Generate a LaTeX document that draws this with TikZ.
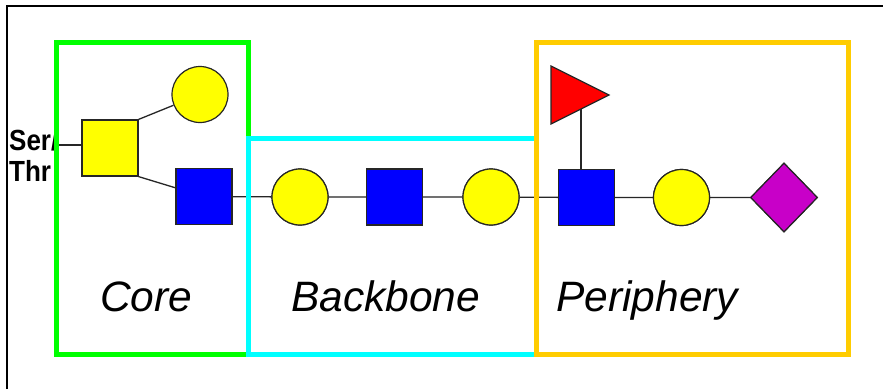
\documentclass[tikz,border=0pt]{standalone}
\usepackage{fontspec}
\setmainfont{Liberation Sans}
\usetikzlibrary{shapes.geometric}
\definecolor{glcYellow}{HTML}{FFFF00}
\definecolor{glcBlue}{HTML}{0000FF}
\definecolor{glcRed}{HTML}{FF0000}
\definecolor{glcPurple}{HTML}{C800C8}
\definecolor{regGreen}{HTML}{00FF00}
\definecolor{regCyan}{HTML}{00FFFF}
\definecolor{regOrange}{HTML}{FFCC00}
\tikzset{
  residue/.style={draw=black!85, line width=1.2pt, inner sep=0pt},
  hexnac/.style={residue, rectangle, minimum size=56pt},
  hexose/.style={residue, circle, minimum size=56pt, fill=glcYellow},
  sialic/.style={residue, diamond, minimum width=67pt, minimum height=69pt, fill=glcPurple},
  bond/.style={draw=black!85, line width=1.3pt},
  region/.style={line width=5pt},
  regionlabel/.style={anchor=base west, inner sep=0pt, font=\fontsize{42.5}{48}\selectfont\itshape},
  aminoacid/.style={anchor=base west, inner sep=0pt, yscale=1.12, font=\fontsize{26}{30}\selectfont\bfseries, text=black}
}
\begin{document}
\begin{tikzpicture}[x=1pt,y=-1pt]
\useasboundingbox (0,0) rectangle (883,389);
\fill[white] (0,0) rectangle (883,389);
% frame lines
\draw[line width=2pt] (7,389) -- (7,5.7) -- (883,5.7);

% attachment amino acid
\node[aminoacid] (ser) at (9,150.5) {Ser/};
\node[aminoacid] (thr) at (9,181.5) {Thr};
\coordinate (root) at (56,145);

% residues
\node[hexnac, fill=glcYellow] (galnac) at (110,148) {};
\node[hexose] (gal1) at (200,94.5) {};
\node[hexnac, fill=glcBlue] (glcnac1) at (204,196.5) {};
\node[hexose] (gal2) at (300,197) {};
\node[hexnac, fill=glcBlue] (glcnac2) at (394.5,197) {};
\node[hexose] (gal3) at (491,197) {};
\node[hexnac, fill=glcBlue] (glcnac3) at (586.5,197.5) {};
\node[hexose] (gal4) at (681.5,197.5) {};
\node[sialic] (neu) at (784,197.5) {};
\draw[residue, fill=glcRed] (551,66) -- (609,95) -- (551,124) -- cycle;
\coordinate (fuc) at (581,109);

% linkages
\draw[bond] (root) -- (root -| galnac.west);
\draw[bond] (galnac.north east) -- (gal1);
\draw[bond] (galnac.south east) -- (glcnac1);
\draw[bond] (glcnac1) -- (gal2) -- (glcnac2) -- (gal3) -- (glcnac3) -- (gal4) -- (neu);
\draw[bond] (fuc) -- (fuc |- glcnac3.north);

% redraw residues over the chain line
\node[hexnac, fill=glcBlue] at (glcnac1) {};
\node[hexose] at (gal2) {};
\node[hexnac, fill=glcBlue] at (glcnac2) {};
\node[hexose] at (gal3) {};
\node[hexnac, fill=glcBlue] at (glcnac3) {};
\node[hexose] at (gal4) {};
\node[sialic] at (neu) {};

% structural regions
\draw[region, regGreen] (56,42) rectangle (248,354);
\draw[region, regCyan] (248,138) rectangle (536,354);
\draw[region, regOrange] (536,42) rectangle (848,354);

\node[regionlabel] (core) at (100,311) {Core};
\node[regionlabel] (backbone) at (291,311) {Backbone};
\node[regionlabel] (periphery) at (556,311) {Periphery};
\end{tikzpicture}
\end{document}
